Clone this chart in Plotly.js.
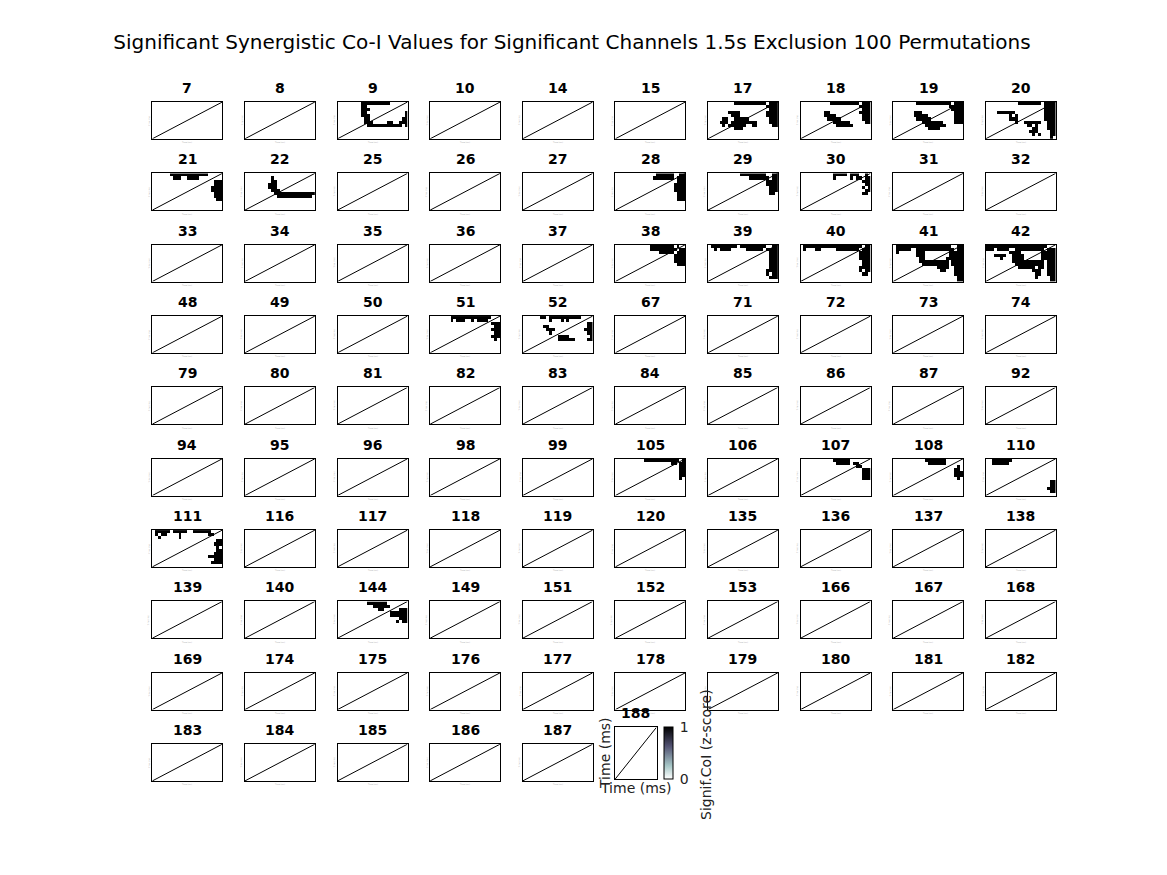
<!DOCTYPE html>
<html><head><meta charset="utf-8">
<script src="https://cdn.plot.ly/plotly-3.0.1.min.js"></script>
<style>html,body{margin:0;padding:0;background:#fff}</style>
</head><body><div id="chart" style="width:1167px;height:875px"></div>
<script>
// ---- DATA ----
const channels = [7,8,9,10,14,15,17,18,19,20,
  21,22,25,26,27,28,29,30,31,32,
  33,34,35,36,37,38,39,40,41,42,
  48,49,50,51,52,67,71,72,73,74,
  79,80,81,82,83,84,85,86,87,92,
  94,95,96,98,99,105,106,107,108,110,
  111,116,117,118,119,120,135,136,137,138,
  139,140,144,149,151,152,153,166,167,168,
  169,174,175,176,177,178,179,180,181,182,
  183,184,185,186,187,188];
const timeRangeMs = [0, 1500];
const gridCols = 24, gridRows = 12;
const colorTickVals = [0, 1];
const titleText = "Significant Synergistic Co-I Values for Significant Channels 1.5s Exclusion 100 Permutations";
const axisLabel = "Time (ms)";
const colorbarLabel = "Signif.CoI (z-score)";

// significance masks (rows listed top -> bottom, '#' = significant)
const mask_9 = ["........##########......","........##..............","........###.............","........##.............#","........###............#",".........##...........##",".........###.....##..###","..........############.#"];
const mask_17 = [".........###########.###","....................####",".....................###",".......####.........####","........###.........####",".....##..#####.......###","....###.#########....###",".....#.######..##.....##",".........###............"];
const mask_18 = ["..........##########.###","....................####",".....................###","........##..........####","........####.........###",".........#####.......###","...........######.....##","............######......"];
const mask_19 = ["........############.###","...................#####","....................####",".......###...........###",".......#####.........###","........#####........###","..........#######....###","...........#######......","............####........"];
const mask_20 = ["...........########.####","....................####","....................####","....######..........####","........#.#.........####","........###.........####","..........#..######..###","..............##.#...###","................##...###","...............###....##","................#.#...##","......................#."];
const mask_21 = ["......#############.....",".......###..####........",".....................###",".....................###","....................####","....................####",".....................###",".....................###","......................##"];
const mask_22 = ["........................",".........#..............",".........##.............","........###.............","........###.............",".........###............","..........##############","...........############."];
const mask_28 = ["..............######..##",".............#######.###",".....................###","....................####","....................####","....................####",".....................###",".....................###",".....................###"];
const mask_29 = ["...........#########..##","..............#######.##","....................####","....................####",".....................###",".....................###",".....................##."];
const mask_30 = ["...........#####.###..#.","...........#.....#.##.##",".....................###","......................##",".....................#.#","......................##",".....................##."];
const mask_38 = ["............########.#..","............#########.##","...............#####.###","....................####","....................####","....................####",".....................###"];
const mask_39 = [".#########.#########..##","..#.####.....######.####",".....................###",".....................###",".....................###",".....................###",".....................###",".....................###","....................####","....................#.##",".....................###"];
const mask_40 = [".####################.##",".#...##.....########.###","....................####","....................####","....................####",".....................###",".....................###","....................####","....................#.##",".....................##."];
const mask_41 = [".###################..##",".#####..#############.##",".#......###........#####","........###........#####",".........##.......######",".........##########.####","..........#########.####","...............####..###","................##...###",".....................###","......................##","......................##"];
const mask_42 = ["#####################...","###.####..##########.###","........####.......#####","...####..####......#####",".....#...####......#####",".........###########.###","..........##########.###","...........######.##.###","................###..###",".................##..###",".................#....##","......................##"];
const mask_51 = [".......##############...",".......#.###..#.####....",".....................###","......................##",".....................###","......................##",".....................###","......................#."];
const mask_52 = ["......##.###########....",".........#...#.#........","......................##",".......##.............##","........###..........###",".........#............##","............####.......#","............######....##"];
const mask_105 = ["..........############.#","...................##.##","......................##","......................##","......................##","......................##","......................#."];
const mask_107 = ["...........######.......","............#####.##....","...................##...",".....................###",".....................###",".....................###",".....................###"];
const mask_108 = ["...........#######......","............######......","......................#.",".....................##.",".....................###",".....................###","......................#."];
const mask_110 = ["..#######...............","..######................","........................","........................","........................","........................","........................","......................##","......................##",".....................###","......................##"];
const mask_111 = [".#####.#####..######....",".#.##....#.........##...","..#......#..............","......................##",".....................###","......................#.","......................##",".....................###","...................#####",".....................###","....................####"];
const mask_144 = ["..........#######.......","............######......","..............##.....###","..................######","..................######",".....................###","....................#.##"];

const sigMasks = {9:mask_9,17:mask_17,18:mask_18,19:mask_19,20:mask_20,21:mask_21,22:mask_22,
  28:mask_28,29:mask_29,30:mask_30,38:mask_38,39:mask_39,40:mask_40,41:mask_41,42:mask_42,
  51:mask_51,52:mask_52,105:mask_105,107:mask_107,108:mask_108,110:mask_110,111:mask_111,144:mask_144};

// ---- BUILD ----
const W = 1167, H = 875;
const boneR = [[0,'rgb(255,255,255)'],[0.254,'rgb(166,198,198)'],[0.635,'rgb(81,81,113)'],[1,'rgb(0,0,0)']];
const t0 = timeRangeMs[0], t1 = timeRangeMs[1];
const xC = [], yC = [];
for (let c = 0; c < gridCols; c++) xC.push(t0 + (c + 0.5) * (t1 - t0) / gridCols);
for (let r = 0; r < gridRows; r++) yC.push(t0 + (r + 0.5) * (t1 - t0) / gridRows);

function buildZ(mask) {
  const z = [];
  for (let r = 0; r < gridRows; r++) {
    const s = (mask && mask[gridRows - 1 - r]) || '';
    const row = [];
    for (let c = 0; c < gridCols; c++) row.push(s[c] === '#' ? 1 : 0);
    z.push(row);
  }
  return z;
}

function boxPos(i, ch) {
  if (ch === 188) return {l: 615, t: 727.3, w: 41.5, h: 52};
  const r = Math.floor(i / 10), c = i % 10;
  return {l: 152.3 + 92.6 * c, t: 102 + 71.35 * r, w: 70, h: 36.8};
}

const traces = [];
const annotations = [];
const layout = {
  width: W, height: H,
  margin: {l: 0, r: 0, t: 0, b: 0},
  paper_bgcolor: '#fff', plot_bgcolor: '#fff',
  font: {family: 'DejaVu Sans', color: '#000'},
  showlegend: false,
  title: {text: titleText, font: {size: 20, family: 'DejaVu Sans', color: '#000'},
    x: 572 / W, xanchor: 'center', y: 1 - 42 / H, yanchor: 'middle', xref: 'paper', yref: 'paper'},
};

channels.forEach((ch, i) => {
  const k = i + 1;
  const xa = 'x' + (k === 1 ? '' : k), ya = 'y' + (k === 1 ? '' : k);
  const p = boxPos(i, ch);
  const axCommon = {range: timeRangeMs, showticklabels: false, ticks: '', showgrid: false,
    zeroline: false, showline: true, mirror: true, linecolor: '#000', linewidth: 1, fixedrange: true};
  layout['xaxis' + (k === 1 ? '' : k)] = Object.assign({}, axCommon, {domain: [p.l / W, (p.l + p.w) / W], anchor: ya});
  layout['yaxis' + (k === 1 ? '' : k)] = Object.assign({}, axCommon, {domain: [1 - (p.t + p.h) / H, 1 - p.t / H], anchor: xa});

  const hm = {type: 'heatmap', x: xC, y: yC, z: buildZ(sigMasks[ch]), xaxis: xa, yaxis: ya,
    colorscale: boneR, zmin: 0, zmax: 1, showscale: ch === 188, hoverinfo: 'skip'};
  if (ch === 188) {
    hm.colorbar = {x: 664.3 / W, xanchor: 'left', y: 1 - 753.3 / H, yanchor: 'middle',
      thickness: 9, thicknessmode: 'pixels', len: 52, lenmode: 'pixels', xpad: 0, ypad: 0,
      outlinewidth: 1, outlinecolor: '#000', tickvals: colorTickVals, ticktext: colorTickVals.map(String),
      ticks: 'outside', ticklen: 4, tickcolor: 'rgba(0,0,0,0)', tickfont: {size: 14, color: '#222'}};
  }
  traces.push(hm);
  traces.push({type: 'scatter', mode: 'lines', x: timeRangeMs, y: timeRangeMs, xaxis: xa, yaxis: ya,
    line: {color: '#000', width: 1}, hoverinfo: 'skip', showlegend: false});

  annotations.push({text: '<b>' + ch + '</b>', x: (p.l + p.w / 2) / W, y: 1 - (p.t - 14) / H,
    xref: 'paper', yref: 'paper', showarrow: false, xanchor: 'center', yanchor: 'middle',
    font: {size: 14, family: 'DejaVu Sans', color: '#000'}});
  if (ch === 188) {
    annotations.push({text: axisLabel, x: (p.l + p.w / 2) / W, y: 1 - 788 / H, xref: 'paper', yref: 'paper',
      showarrow: false, xanchor: 'center', yanchor: 'middle', font: {size: 14, color: '#222'}});
    annotations.push({text: axisLabel, textangle: -90, x: 605 / W, y: 1 - 753 / H, xref: 'paper', yref: 'paper',
      showarrow: false, xanchor: 'center', yanchor: 'middle', font: {size: 14, color: '#222'}});
    annotations.push({text: colorbarLabel, textangle: -90, x: 706 / W, y: 1 - 755 / H, xref: 'paper', yref: 'paper',
      showarrow: false, xanchor: 'center', yanchor: 'middle', font: {size: 14, color: '#222'}});
  } else {
    annotations.push({text: axisLabel, x: (p.l + p.w / 2) / W, y: 1 - (p.t + p.h + 4) / H, xref: 'paper', yref: 'paper',
      showarrow: false, xanchor: 'center', yanchor: 'middle', font: {size: 2, color: '#aaa'}});
    annotations.push({text: axisLabel, textangle: -90, x: (p.l - 3) / W, y: 1 - (p.t + p.h / 2) / H, xref: 'paper', yref: 'paper',
      showarrow: false, xanchor: 'center', yanchor: 'middle', font: {size: 2, color: '#aaa'}});
  }
});
layout.annotations = annotations;

Plotly.newPlot('chart', traces, layout, {staticPlot: true, displayModeBar: false});
</script></body></html>
